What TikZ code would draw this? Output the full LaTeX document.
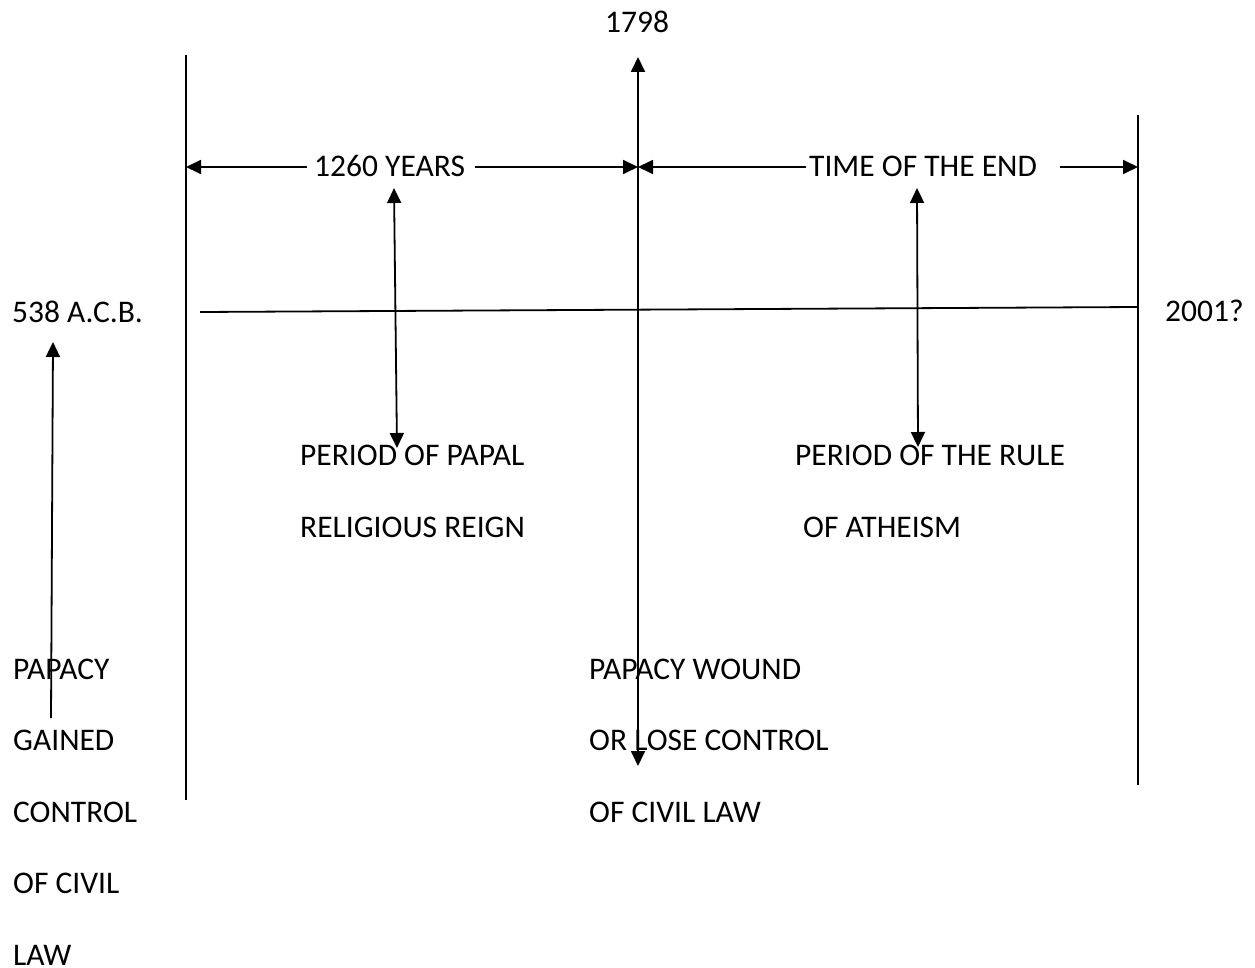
\documentclass[tikz,border=0pt]{standalone}
\usepackage{fontspec}
\setmainfont{Carlito}
\usetikzlibrary{positioning}
\usetikzlibrary{arrows.meta}
\tikzset{every edge/.style={ % lines of the time chart
			draw,
			line width=1.8pt},
		tip/.style={-{Triangle[length=15pt,width=14pt]}},
		twotip/.style={{Triangle[length=15pt,width=14pt]}-{Triangle[length=15pt,width=14pt]}},
		lbl/.style={font=\fontsize{31.5}{38}\selectfont, inner sep=0pt, anchor=base west}}

\begin{document}
\begin{tikzpicture}[x=1pt,y=-1pt]
			\useasboundingbox[fill=white] (0,0) rectangle (1255,968);
			% dates and spans
			\node[lbl] (Y) at (605,33) {1798};
			\node[lbl] (S) at (12,322) {538 A.C.B.};
			\node[lbl] (E) at (1165,321) {2001?};
			\node[lbl] (Yrs) at (314,177) {1260 YEARS};
			\node[lbl] (End) at (809,177) {TIME OF THE END};
			% periods
			\node[lbl] (P1) at (300,465) {PERIOD OF PAPAL};
			\node[lbl] (P2) at ([yshift=-72pt]P1.base west) {RELIGIOUS REIGN};
			\node[lbl] (A1) at (795,465) {PERIOD OF THE RULE};
			\node[lbl] (A2) at ([xshift=8pt,yshift=-72pt]A1.base west) {OF ATHEISM};
			% what the papacy did
			\node[lbl] (G1) at (13,679) {PAPACY};
			\node[lbl] (G2) at ([yshift=-71.5pt]G1.base west) {GAINED};
			\node[lbl] (G3) at ([yshift=-71.5pt]G2.base west) {CONTROL};
			\node[lbl] (G4) at ([yshift=-71.5pt]G3.base west) {OF CIVIL};
			\node[lbl, text depth=0pt] (G5) at ([yshift=-71.5pt]G4.base west) {LAW};
			\node[lbl] (W1) at (589,679) {PAPACY WOUND};
			\node[lbl] (W2) at ([yshift=-71.5pt]W1.base west) {OR LOSE CONTROL};
			\node[lbl] (W3) at ([yshift=-71.5pt]W2.base west) {OF CIVIL LAW};
			
			\coordinate (Lt) at (186,55);  \coordinate (Lb) at (186,800);
			\coordinate (Rt) at (1138,115); \coordinate (Rb) at (1138,785);
			\coordinate (Ct) at (638,57);  \coordinate (Cb) at (638,766);
			\coordinate (La) at (186,167); \coordinate (Ca) at (638,167); \coordinate (Ra) at (1138,167);
			\coordinate (Ya) at (307,167); \coordinate (Yb) at (475,167);
			\coordinate (Ea) at (806,167); \coordinate (Eb) at (1060,167);
			\coordinate (Ms) at (200,312); \coordinate (Me) at (1138,307);
			\coordinate (Pt) at (394,188); \coordinate (Pb) at (397,448);
			\coordinate (At) at (917,188); \coordinate (Ab) at (918,447);
			\coordinate (Gb) at (51,718);  \coordinate (Gt) at (53,342);
			
			\draw (Lt) edge (Lb) (Rt) edge (Rb) (Ms) edge (Me)
				(Cb) edge[twotip] (Ct)
				(Ya) edge[tip] (La) (Yb) edge[tip] (Ca)
				(Ea) edge[tip] (Ca) (Eb) edge[tip] (Ra)
				(Pt) edge[twotip] (Pb) (At) edge[twotip] (Ab)
				(Gb) edge[tip] (Gt);
		\end{tikzpicture}
\end{document}
